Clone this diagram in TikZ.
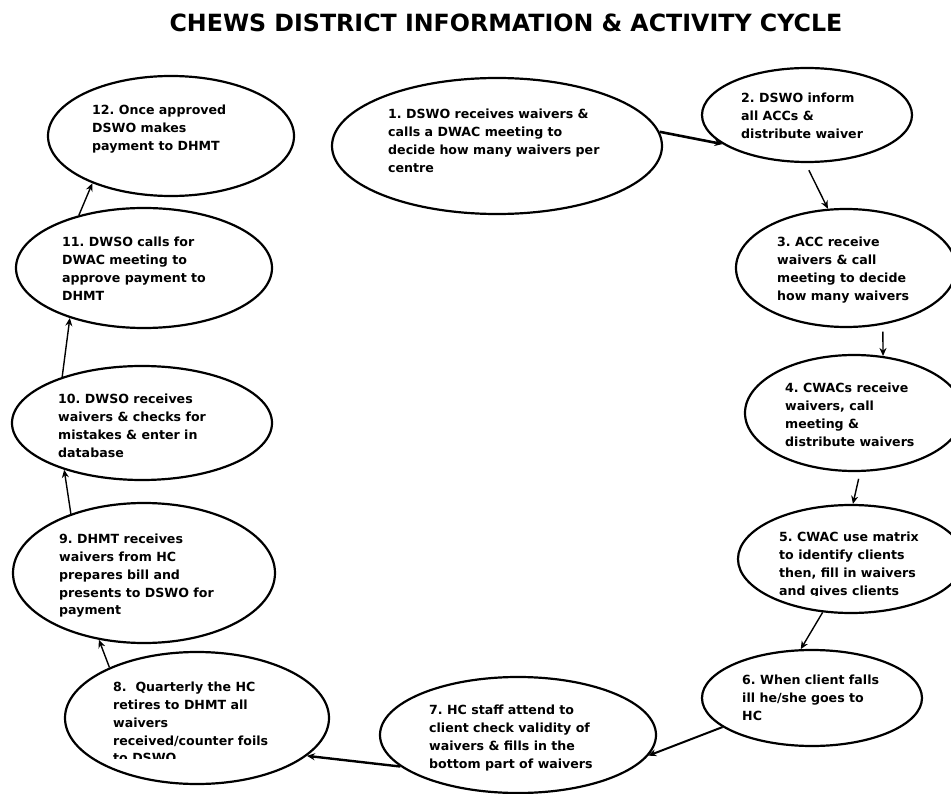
\documentclass[tikz,border=0pt]{standalone}
\usepackage{fontspec}
\setmainfont{DejaVu Sans}
\frenchspacing
\usepackage{tikz}
\usetikzlibrary{arrows.meta, shapes.geometric}

\tikzset{
    stage/.style={draw, ellipse, line width=2.2pt, inner sep=0pt},
    stagetext/.style={anchor=north west, align=left, inner sep=0pt, font=\bfseries\fontsize{12.6}{17.8}\selectfont},
    flow/.style={-{Stealth[length=8pt, width=7pt]}, line width=1.4pt},
}

\begin{document}
\begin{tikzpicture}[x=1pt, y=-1pt]
    % 画布
    \useasboundingbox (0, 0) rectangle (951, 794);
    \clip (0, 0) rectangle (951, 794);

    % 标题
    \node[anchor=base, font=\bfseries\fontsize{23.7}{28}\selectfont] (title) at (506, 32) {CHEWS DISTRICT INFORMATION \& ACTIVITY CYCLE};

    % 椭圆
    \node[stage, minimum width=330pt, minimum height=136pt] (e1) at (497, 146) {};
    \node[stage, minimum width=210pt, minimum height=94pt] (e2) at (807, 115) {};
    \node[stage, minimum width=220pt, minimum height=118pt] (e3) at (846, 268) {};
    \node[stage, minimum width=218pt, minimum height=116pt] (e4) at (854, 413) {};
    \node[stage, minimum width=226pt, minimum height=108pt] (e5) at (851, 559) {};
    \node[stage, minimum width=220pt, minimum height=96pt] (e6) at (812, 698) {};
    \node[stage, minimum width=276pt, minimum height=116pt] (e7) at (518, 735) {};
    \node[stage, minimum width=264pt, minimum height=132pt] (e8) at (197, 718) {};
    \node[stage, minimum width=262pt, minimum height=140pt] (e9) at (144, 573) {};
    \node[stage, minimum width=260pt, minimum height=114pt] (e10) at (142, 423) {};
    \node[stage, minimum width=256pt, minimum height=120pt] (e11) at (144, 268) {};
    \node[stage, minimum width=246pt, minimum height=120pt] (e12) at (171, 136) {};

    % 文字
    \node[stagetext] (t1) at (388, 109) {1. DSWO receives waivers \&\\calls a DWAC meeting to\\decide how many waivers per\\centre};
    \node[stagetext] (t2) at (741, 93) {2. DSWO inform\\all ACCs \&\\distribute waiver};
    \node[stagetext] (t3) at (777, 237) {3. ACC receive\\waivers \& call\\meeting to decide\\how many waivers};
    \node[stagetext] (t4) at (785, 383) {4. CWACs receive\\waivers, call\\meeting \&\\distribute waivers};
    \begin{scope}
        \clip (770, 520) rectangle (951, 595);
        \node[stagetext] (t5) at (779, 532) {5. CWAC use matrix\\to identify clients\\then, fill in waivers\\and gives clients};
    \end{scope}
    \node[stagetext] (t6) at (742, 675) {6. When client falls\\ill he/she goes to\\HC};
    \node[stagetext] (t7) at (429, 705) {7. HC staff attend to\\client check validity of\\waivers \& fills in the\\bottom part of waivers};
    \begin{scope}
        \clip (100, 670) rectangle (330, 758);
        \node[stagetext] (t8) at (113, 682) {8.\ \ Quarterly the HC\\retires to DHMT all\\waivers\\received/counter foils\\to DSWO};
    \end{scope}
    \node[stagetext] (t9) at (59, 534) {9. DHMT receives\\waivers from HC\\prepares bill and\\presents to DSWO for\\payment};
    \node[stagetext] (t10) at (58, 394) {10. DWSO receives\\waivers \& checks for\\mistakes \& enter in\\database};
    \node[stagetext] (t11) at (62, 237) {11. DWSO calls for\\DWAC meeting to\\approve payment to\\DHMT};
    \node[stagetext] (t12) at (92, 105) {12. Once approved\\DSWO makes\\payment to DHMT};

    % 箭头
    \draw[flow, line width=2.6pt] (e1.5) -- (e2.199);
    \draw[flow, shorten <=8pt] (e2.-92) -- (e3.107);
    \draw[flow, shorten <=7pt] (e3.-57) -- (e4.63);
    \draw[flow, shorten <=7pt] (e4.-84) -- (e5.88);
    \draw[flow] (e5.-118) -- (e6.103);
    \draw[flow, line width=2pt] (e6.-162) -- (e7.-9);
    \draw[flow, line width=2.4pt] (e7.-165) -- (e8.-19);
    \draw[flow] (e8.150) -- (e9.-124);
    \draw[flow] (e9.141) -- (e10.-149);
    \draw[flow] (e10.150) -- (e11.-146);
    \draw[flow] (e11.141) -- (e12.-149);
\end{tikzpicture}
\end{document}
